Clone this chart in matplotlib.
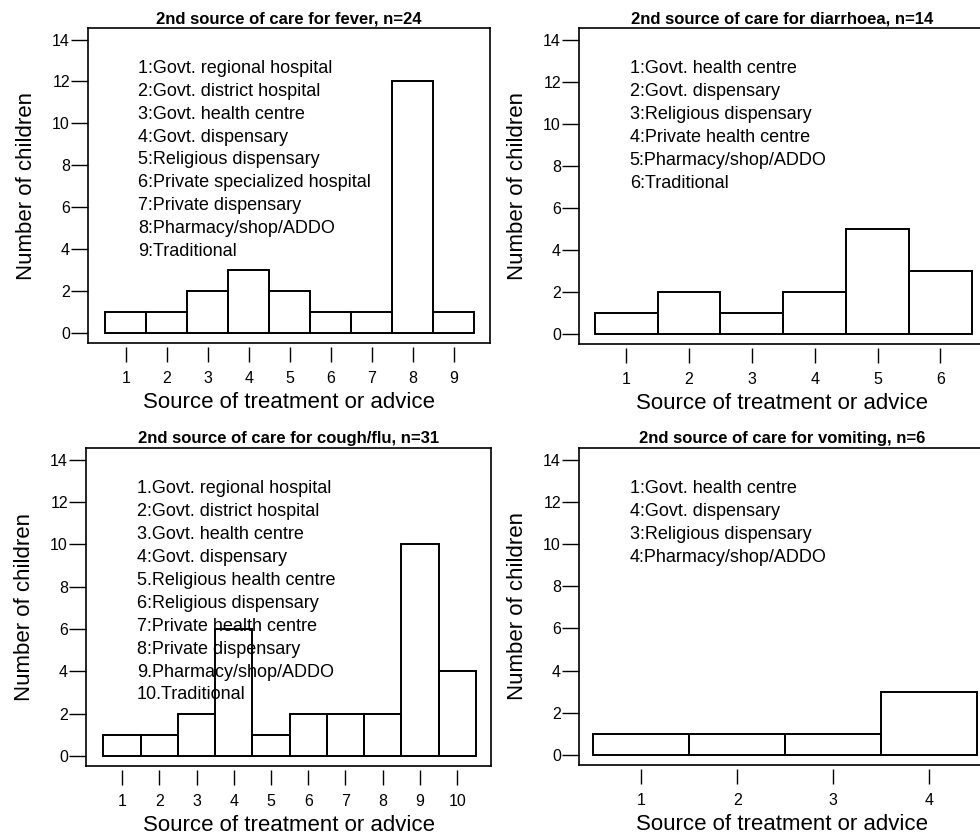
import matplotlib
matplotlib.use("Agg")
import matplotlib.pyplot as plt

plt.rcParams['font.family'] = ['Liberation Sans', 'DejaVu Sans']

# Counts of children per source of treatment, one list per illness
fever_counts = [1, 1, 2, 3, 2, 1, 1, 12, 1]
fever_labels = [
    "1:Govt. regional hospital",
    "2:Govt. district hospital",
    "3:Govt. health centre",
    "4:Govt. dispensary",
    "5:Religious dispensary",
    "6:Private specialized hospital",
    "7:Private dispensary",
    "8:Pharmacy/shop/ADDO",
    "9:Traditional",
]

diarrhoea_counts = [1, 2, 1, 2, 5, 3]
diarrhoea_labels = [
    "1:Govt. health centre",
    "2:Govt. dispensary",
    "3:Religious dispensary",
    "4:Private health centre",
    "5:Pharmacy/shop/ADDO",
    "6:Traditional",
]

cough_counts = [1, 1, 2, 6, 1, 2, 2, 2, 10, 4]
cough_labels = [
    "1.Govt. regional hospital",
    "2:Govt. district hospital",
    "3.Govt. health centre",
    "4:Govt. dispensary",
    "5.Religious health centre",
    "6:Religious dispensary",
    "7:Private health centre",
    "8:Private dispensary",
    "9.Pharmacy/shop/ADDO",
    "10.Traditional",
]

vomiting_counts = [1, 1, 1, 3]
vomiting_labels = [
    "1:Govt. health centre",
    "4:Govt. dispensary",
    "3:Religious dispensary",
    "4:Pharmacy/shop/ADDO",
]

W, H = 980, 835

# (title, counts, labels, frame in pixels [left, top, right, bottom], xlim)
panels = [
    ("2nd source of care for fever, n=24", fever_counts, fever_labels,
     (88, 28, 490, 343), (0.08, 9.88)),
    ("2nd source of care for diarrhoea, n=14", diarrhoea_counts, diarrhoea_labels,
     (579, 28, 985, 344), (0.25, 6.71)),
    ("2nd source of care for cough/flu, n=31", cough_counts, cough_labels,
     (86, 448, 491, 766), (0.03, 10.91)),
    ("2nd source of care for vomiting, n=6", vomiting_counts, vomiting_labels,
     (579, 448, 985, 765), (0.35, 4.58)),
]

fig = plt.figure(figsize=(W / 100, H / 100), dpi=100)

for title, counts, labels, (l, t, r, b), xlim in panels:
    ax = fig.add_axes([l / W, 1 - b / H, (r - l) / W, (b - t) / H])
    xs = list(range(1, len(counts) + 1))

    ax.bar(xs, counts, width=1.0, fill=False, edgecolor='black',
           linewidth=1.4, zorder=3)

    ax.set_xlim(*xlim)
    ax.set_ylim(-0.48, 14.55)
    ax.set_yticks(range(0, 15, 2))
    ax.set_xticks(xs)

    for side in ['left', 'right', 'top', 'bottom']:
        ax.spines[side].set_linewidth(1.2)

    # x ticks hang below the frame with a small gap, drawn on a shifted axis
    ax.spines['bottom'].set_visible(False)
    ax.plot([0, 1], [0, 0], transform=ax.transAxes, color='black',
            linewidth=1.2, clip_on=False, zorder=4)
    ax.spines['bottom'].set_position(('outward', 3))

    ax.tick_params(axis='y', direction='out', length=12, width=1.0,
                   labelsize=11.5, pad=1)
    ax.tick_params(axis='x', direction='out', length=10.5, width=1.0,
                   labelsize=11.5, pad=7)

    ax.set_title(title, fontsize=12, fontweight='bold', pad=3.5)
    ax.set_xlabel("Source of treatment or advice", fontsize=16)
    ax.set_ylabel("Number of children", fontsize=16)
    ax.yaxis.set_label_coords(-51 / (r - l), 0.5)
    ax.xaxis.set_label_coords(0.5, -49 / (b - t))

    for i, txt in enumerate(labels):
        ax.annotate(txt, xy=(0.125, 0.872), xycoords='axes fraction',
                    xytext=(0, -16.5 * i), textcoords='offset points',
                    fontsize=13, va='center', ha='left', zorder=2)

fig.savefig("out.png", dpi=100)
